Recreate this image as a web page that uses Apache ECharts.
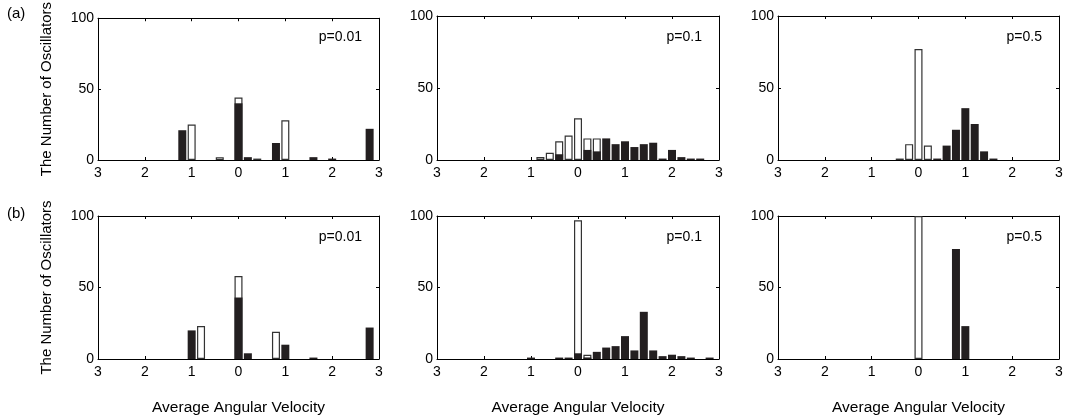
<!DOCTYPE html>
<html>
<head>
<meta charset="utf-8">
<script src="https://cdn.jsdelivr.net/npm/echarts/dist/echarts.min.js"></script>
<style>
  html, body { margin: 0; padding: 0; background: #fff; }
  #chart { width: 1070px; height: 417px; }
</style>
</head>
<body>
<div id="chart"></div>
<script>
// histogram data: [bin centre, count]; open = white bars, filled = black bars
const a1Open = [[-1.0, 25], [-0.4, 2], [0, 44], [0.4, 1], [1.0, 28]];
const a1Filled = [[-1.2, 21], [0, 40], [0.2, 2], [0.8, 12], [1.6, 2], [2.0, 1], [2.8, 22]];

const a2Open = [[-0.8, 2], [-0.6, 5], [-0.4, 13], [-0.2, 17], [0, 29], [0.2, 15], [0.4, 15]];
const a2Filled = [[-0.4, 4], [0.2, 7], [0.4, 6], [0.6, 15], [0.8, 11], [1.0, 13], [1.2, 9],
  [1.4, 11], [1.6, 12], [1.8, 1], [2.0, 7], [2.2, 2], [2.4, 1], [2.6, 1]];

const a3Open = [[-0.4, 1], [-0.2, 11], [0, 77], [0.2, 10]];
const a3Filled = [[0.4, 1], [0.6, 10], [0.8, 21], [1.0, 36], [1.2, 25], [1.4, 6], [1.6, 1]];

const b1Open = [[-0.8, 23], [0, 58], [0.8, 19]];
const b1Filled = [[-1.0, 20], [0, 43], [0.2, 4], [1.0, 10], [1.6, 1], [2.8, 22]];

const b2Open = [[0, 97], [0.2, 3]];
const b2Filled = [[-1.0, 1], [-0.4, 1], [-0.2, 1], [0, 4], [0.2, 1], [0.4, 5], [0.6, 8], [0.8, 9],
  [1.0, 16], [1.2, 6], [1.4, 33], [1.6, 6], [1.8, 2], [2.0, 3], [2.2, 2], [2.4, 1], [2.8, 1]];

const b3Open = [[0, 100]];
const b3Filled = [[0.8, 77], [1.0, 23]];

const xTickLabels = ['3', '2', '1', '0', '1', '2', '3'];
const pLabels = ['p=0.01', 'p=0.1', 'p=0.5'];
const rowLabels = ['(a)', '(b)'];

const panels = [
  [a1Open, a1Filled], [a2Open, a2Filled], [a3Open, a3Filled],
  [b1Open, b1Filled], [b2Open, b2Filled], [b3Open, b3Filled]
];

const FONT = 'Liberation Sans, Arial, sans-serif';
const gridLefts = [98, 437, 778];
const gridWidths = [281, 282, 281];
const rowTops = [16, 216];
const rowHeights = [144, 143];

const chart = echarts.init(document.getElementById('chart'));

const grid = [], xAxis = [], yAxis = [], series = [], graphic = [];
const line = { show: true, onZero: false, lineStyle: { color: '#000', width: 1 } };
const tick = { show: true, inside: true, length: 3, lineStyle: { color: '#000' } };

panels.forEach(([open, filled], i) => {
  const r = Math.floor(i / 3), c = i % 3;
  grid.push({ left: gridLefts[c], top: rowTops[r], width: gridWidths[c], height: rowHeights[r] });

  xAxis.push({
    gridIndex: i, type: 'value', min: -3, max: 3, interval: 1,
    axisLine: line, axisTick: tick, splitLine: { show: false },
    axisLabel: {
      color: '#000', fontSize: 14, fontFamily: FONT, margin: 6,
      formatter: (v) => xTickLabels[Math.round(v + 3)]
    },
    name: r === 1 ? 'Average Angular Velocity' : '',
    nameLocation: 'middle', nameGap: 41,
    nameTextStyle: { color: '#000', fontSize: 15.5, fontFamily: FONT }
  });
  xAxis.push({
    gridIndex: i, type: 'value', position: 'top', min: -3, max: 3, interval: 1,
    axisLine: line, axisTick: tick, axisLabel: { show: false }, splitLine: { show: false }
  });

  yAxis.push({
    gridIndex: i, type: 'value', min: 0, max: 100, interval: 50,
    axisLine: line, axisTick: tick, splitLine: { show: false },
    axisLabel: { color: '#000', fontSize: 14, fontFamily: FONT, margin: 4 },
    name: c === 0 ? 'The Number of Oscillators' : '',
    nameLocation: 'middle', nameGap: 44, nameRotate: 90,
    nameTextStyle: { color: '#000', fontSize: 15, fontFamily: FONT }
  });
  yAxis.push({
    gridIndex: i, type: 'value', position: 'right', min: 0, max: 100, interval: 50,
    axisLine: line, axisTick: tick, axisLabel: { show: false }, splitLine: { show: false }
  });

  series.push({
    type: 'bar', xAxisIndex: 2 * i, yAxisIndex: 2 * i, data: open,
    barWidth: 8, barGap: '-100%', z: 2,
    itemStyle: { color: '#fff', borderColor: '#333', borderWidth: 1.2 }
  });
  series.push({
    type: 'bar', xAxisIndex: 2 * i, yAxisIndex: 2 * i, data: filled,
    barWidth: 8, barGap: '-100%', z: 3,
    itemStyle: { color: '#231f20' }
  });

  graphic.push({
    type: 'text', right: 1070 - gridLefts[c] - gridWidths[c] + 17, top: rowTops[r] + 14,
    style: { text: pLabels[c], font: '14px ' + FONT, fill: '#000' }
  });
});

rowLabels.forEach((t, r) => {
  graphic.push({
    type: 'text', left: 7, top: rowTops[r] - 10,
    style: { text: t, font: '15px ' + FONT, fill: '#000' }
  });
});

chart.setOption({
  animation: false,
  grid, xAxis, yAxis, series, graphic
});
</script>
</body>
</html>
